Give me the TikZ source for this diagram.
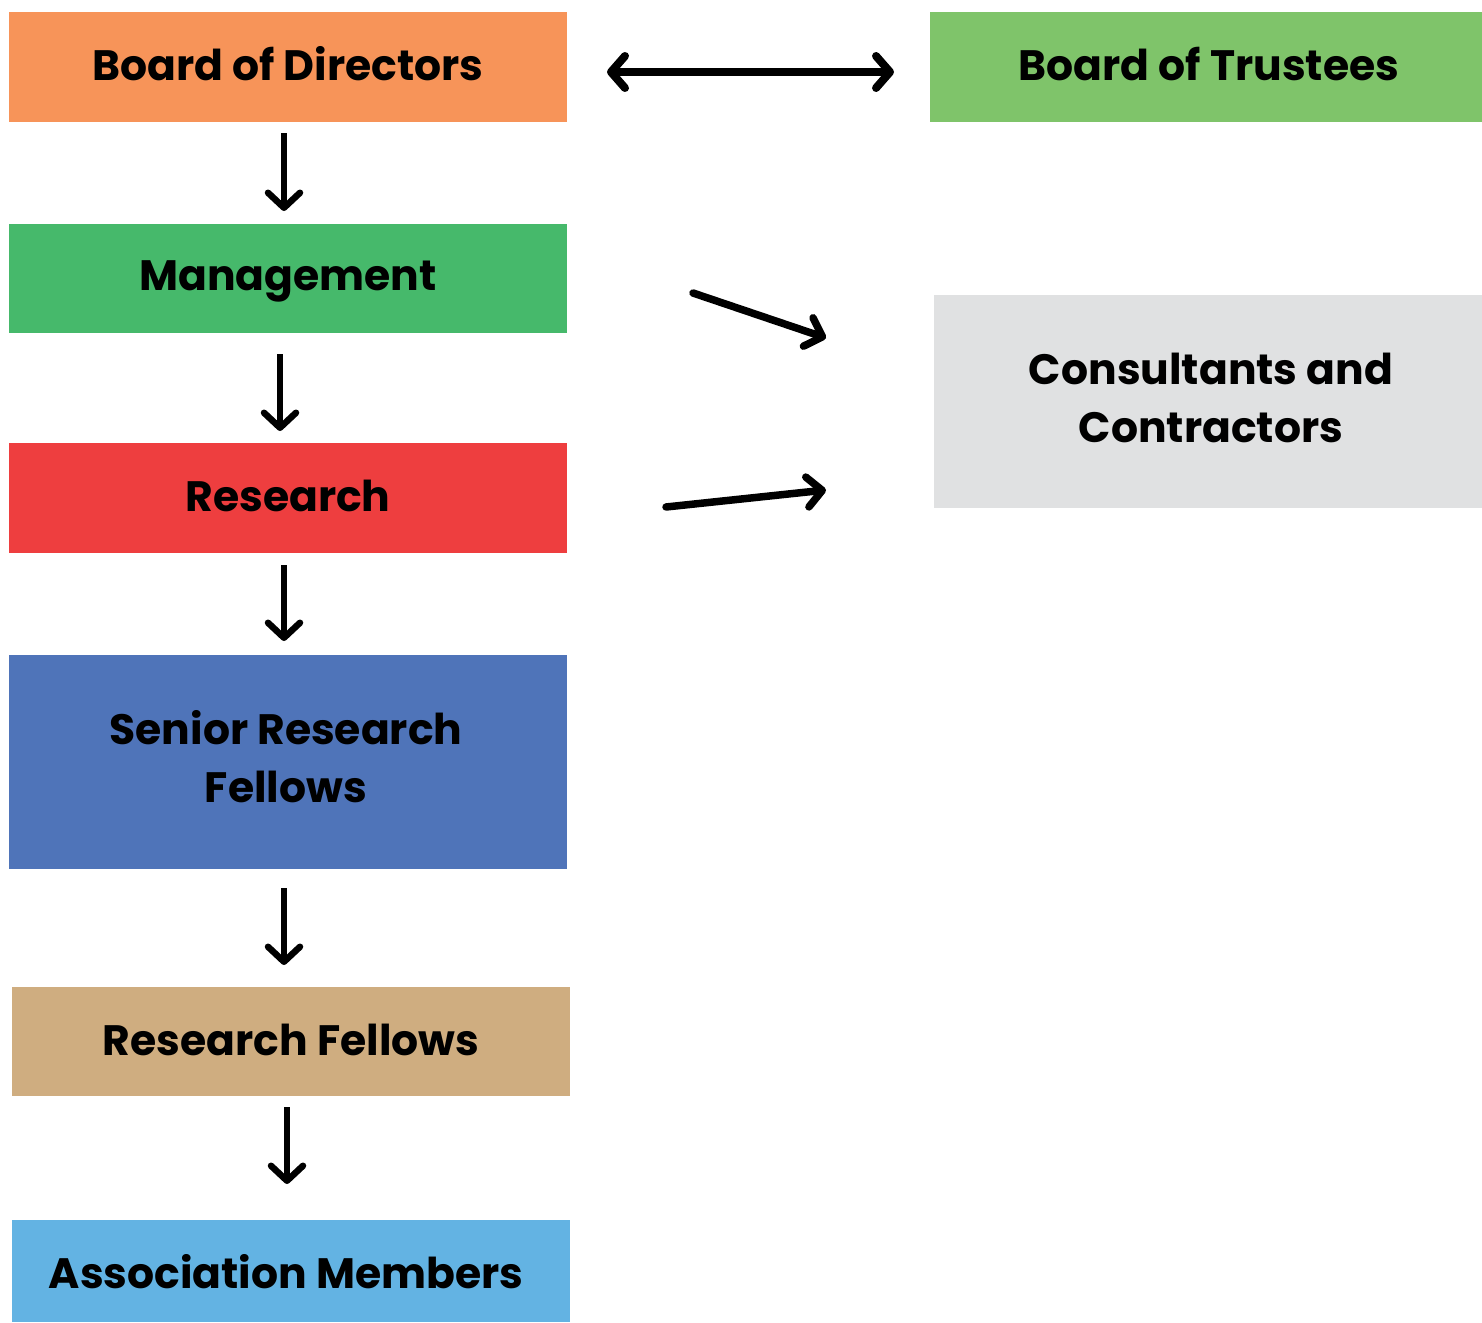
\documentclass[tikz,border=0pt]{standalone}
\usepackage{fontspec}
\setmainfont{Poppins}
\usetikzlibrary{arrows.meta}
\definecolor{cbod}{HTML}{F79459}
\definecolor{cbot}{HTML}{7FC46A}
\definecolor{cmgmt}{HTML}{46B96B}
\definecolor{cres}{HTML}{EE3E3F}
\definecolor{csrf}{HTML}{4F74B9}
\definecolor{crf}{HTML}{CFAD80}
\definecolor{cam}{HTML}{63B3E3}
\definecolor{ccons}{HTML}{E0E1E2}
\tikzset{
  box/.style={draw=none, inner sep=0pt, align=center, anchor=base, font=\bfseries\fontsize{42.5}{58}\selectfont, text=black},
  downarrow/.style={line width=6.5pt, -{Straight Barb[round, length=15pt, width=32pt, line width=6.5pt]}},
  diagarrow/.style={line width=7.5pt, line cap=round, -{Straight Barb[round, length=15pt, width=30pt, line width=7.5pt]}},
  bothway/.style={line width=8pt, {Straight Barb[round, length=14pt, width=32pt, line width=8pt]}-{Straight Barb[round, length=14pt, width=32pt, line width=8pt]}},
}
\begin{document}
\begin{tikzpicture}[x=1pt,y=-1pt]
\useasboundingbox (0,0) rectangle (1482,1322);
% boxes
\fill[cbod] (9,12) rectangle (567,122);
\node[box] (bod) at (288,80) {Board of Directors};
\fill[cbot] (930,12) rectangle (1482,122);
\node[box] (bot) at (1209,80) {Board of Trustees};
\fill[cmgmt] (9,224) rectangle (567,333);
\node[box] (mgmt) at (288,290) {Management};
\fill[cres] (9,443) rectangle (567,553);
\node[box] (res) at (288,511) {Research};
\fill[csrf] (9,655) rectangle (567,869);
\node[box] (srf) at (286,802) {Senior Research\\Fellows};
\fill[crf] (12,987) rectangle (570,1096);
\node[box] (rf) at (291,1055) {Research Fellows};
\fill[cam] (12,1220) rectangle (570,1322);
\node[box] (am) at (286,1288) {Association Members};
\fill[ccons] (934,295) rectangle (1482,508);
\node[box] (cons) at (1211,442) {Consultants and\\Contractors};
% arrow end points
\coordinate (a1s) at (284,133); \coordinate (a1e) at (284,211);
\coordinate (a2s) at (280,354); \coordinate (a2e) at (280,431);
\coordinate (a3s) at (284,565); \coordinate (a3e) at (284,641);
\coordinate (a4s) at (284,888); \coordinate (a4e) at (284,965);
\coordinate (a5s) at (287,1107); \coordinate (a5e) at (287,1184);
\coordinate (h1) at (607,72); \coordinate (h2) at (894,72);
\coordinate (d1s) at (693,293); \coordinate (d1e) at (826,338);
\coordinate (d2s) at (666,507); \coordinate (d2e) at (826,490);
\draw[downarrow] (a1s) -- (a1e);
\draw[downarrow] (a2s) -- (a2e);
\draw[downarrow] (a3s) -- (a3e);
\draw[downarrow] (a4s) -- (a4e);
\draw[downarrow] (a5s) -- (a5e);
\draw[bothway] (h1) -- (h2);
\draw[diagarrow] (d1s) -- (d1e);
\draw[diagarrow] (d2s) -- (d2e);
\end{tikzpicture}
\end{document}
